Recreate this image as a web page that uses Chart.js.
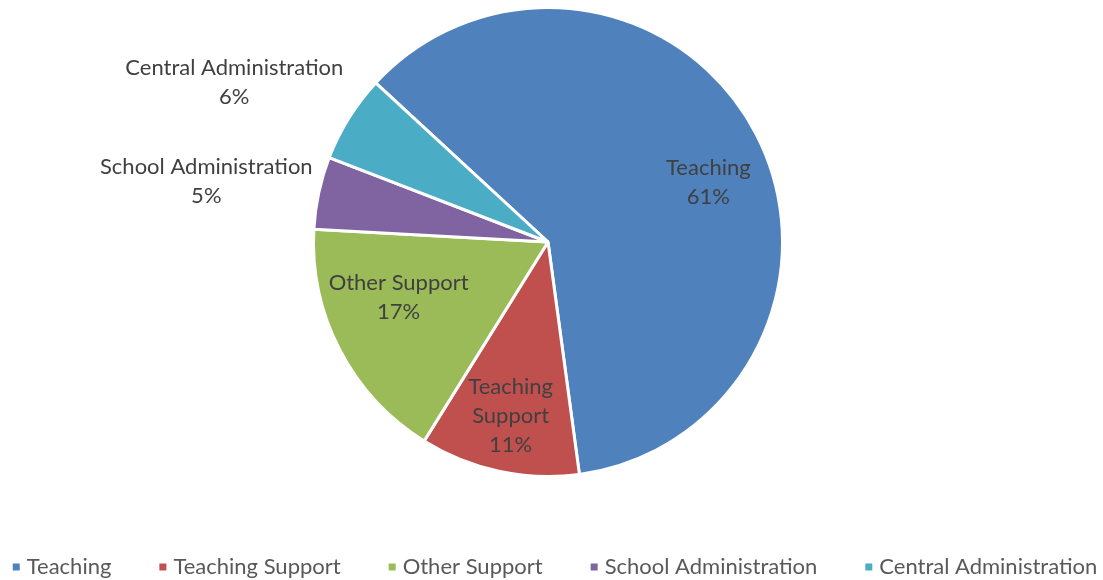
<!DOCTYPE html>
<html>
<head>
<meta charset="utf-8">
<script src="https://cdn.jsdelivr.net/npm/chart.js@4.4.0/dist/chart.umd.min.js"></script>
<style>
  html, body { margin: 0; padding: 0; background: #fff; }
</style>
</head>
<body>
<canvas id="myChart" width="1103" height="580"></canvas>
<script>
categories = ['Teaching', 'Teaching Support', 'Other Support', 'School Administration', 'Central Administration']
shares = [61, 11, 17, 5, 6]
colours = ['#4F81BD', '#C0504D', '#9BBB59', '#8064A2', '#4BACC6']

// where each label sits: fraction of radius, and angle nudge (deg)
label_r = [0.73, 0.76, 0.68, 1.48, 1.5]
label_nudge = [7, 0, 7, -2, -5]
label_lines = [['Teaching'], ['Teaching', 'Support'], ['Other Support'], ['School Administration'], ['Central Administration']]

const FONT = '22px Lato'

const sliceLabels = {
    id: 'sliceLabels',
    afterDatasetsDraw(chart) {
        const ctx = chart.ctx
        const arcs = chart.getDatasetMeta(0).data
        ctx.save()
        ctx.font = FONT
        ctx.fillStyle = '#404040'
        ctx.textAlign = 'center'
        ctx.textBaseline = 'middle'
        arcs.forEach(function (arc, i) {
            const mid = (arc.startAngle + arc.endAngle) / 2 + label_nudge[i] * Math.PI / 180
            const r = arc.outerRadius * label_r[i]
            const cx = arc.x + Math.cos(mid) * r
            const cy = arc.y + Math.sin(mid) * r
            const lines = label_lines[i].concat([shares[i] + '%'])
            const lh = 29
            const top = cy - (lines.length - 1) * lh / 2
            lines.forEach(function (t, j) {
                ctx.fillText(t, cx, top + j * lh)
            })
        })
        ctx.restore()
    }
}

// legend along the bottom, excel style: small square, wide gaps
const bottomLegend = {
    id: 'bottomLegend',
    afterDraw(chart) {
        const ctx = chart.ctx
        ctx.save()
        ctx.font = FONT
        ctx.textBaseline = 'middle'
        const box = 7, boxGap = 7, itemGap = 48
        let total = 0
        const widths = categories.map(function (c) { return ctx.measureText(c).width })
        widths.forEach(function (w, i) {
            total += box + boxGap + w + (i < widths.length - 1 ? itemGap : 0)
        })
        let x = 555 - total / 2
        const y = 567
        categories.forEach(function (c, i) {
            ctx.fillStyle = colours[i]
            ctx.fillRect(x, y - box / 2, box, box)
            ctx.fillStyle = '#595959'
            ctx.fillText(c, x + box + boxGap, y)
            x += box + boxGap + widths[i] + itemGap
        })
        ctx.restore()
    }
}

const ctx = document.getElementById('myChart').getContext('2d')
const myChart = new Chart(ctx, {
    type: 'pie',
    data: {
        labels: categories,
        datasets: [{
            data: shares,
            backgroundColor: colours,
            borderColor: '#fff',
            borderWidth: 3
        }]
    },
    options: {
        responsive: false,
        animation: false,
        rotation: -47.3,
        layout: { padding: { top: 6, bottom: 102, left: 0, right: 7 } },
        plugins: {
            legend: { display: false },
            tooltip: { enabled: false }
        }
    },
    plugins: [sliceLabels, bottomLegend]
})
</script>
</body>
</html>
